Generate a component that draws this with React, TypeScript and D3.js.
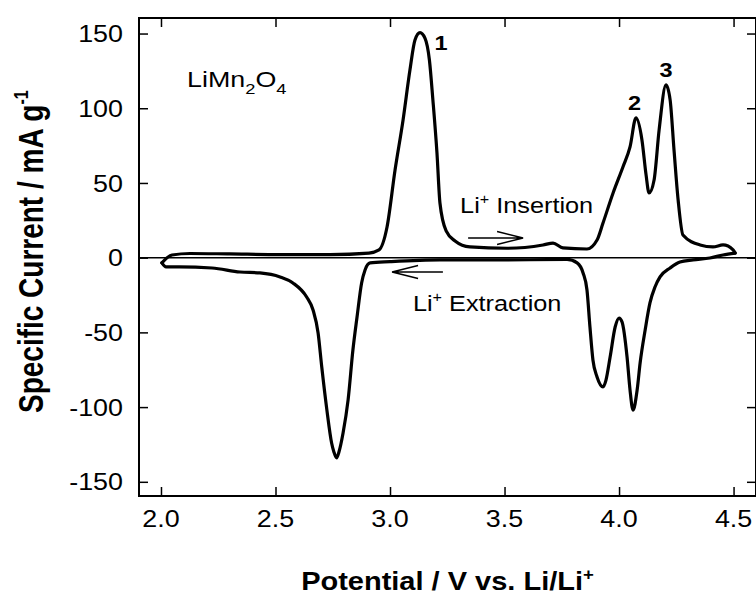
import React, { useRef, useEffect } from "react";
import * as d3 from "d3";

// tick values
const xTicks = [2.0, 2.5, 3.0, 3.5, 4.0, 4.5];
const yTicks = [-150, -100, -50, 0, 50, 100, 150];

// forward sweep (upper branch) - potential in V, current in mA/g
const fwdPotential = [2.004, 2.048, 2.127, 2.301, 2.52, 2.738, 2.908, 2.952, 2.987, 3.022, 3.057, 3.087, 3.109, 3.131, 3.153, 3.172, 3.187, 3.205, 3.218, 3.245, 3.284, 3.349, 3.511, 3.668, 3.712, 3.755, 3.86, 3.904, 3.93, 3.974, 4.017, 4.048, 4.074, 4.1, 4.118, 4.131, 4.153, 4.175, 4.205, 4.223, 4.24, 4.258, 4.279, 4.354, 4.41, 4.454, 4.498, 4.507];
const fwdCurrent = [-3.5, 1.8, 2.8, 2.5, 2.1, 2.1, 3.1, 5.2, 20.5, 58.7, 92.2, 125.6, 145.7, 150.6, 146.8, 132.3, 106.0, 70.1, 36.6, 17.9, 11.2, 7.2, 6.3, 8.5, 9.8, 6.5, 5.8, 11.8, 23.2, 43.3, 60.7, 74.1, 93.5, 78.8, 55.4, 43.3, 52.0, 85.5, 115.6, 105.6, 72.1, 38.6, 15.2, 8.5, 7.2, 8.5, 5.2, 3.1];

// reverse sweep (lower branch)
const revPotential = [4.454, 4.397, 4.323, 4.266, 4.223, 4.179, 4.157, 4.135, 4.114, 4.092, 4.079, 4.061, 4.048, 4.035, 4.013, 4.0, 3.983, 3.961, 3.943, 3.93, 3.904, 3.886, 3.873, 3.86, 3.843, 3.817, 3.773, 3.48, 3.218, 3.0, 2.913, 2.891, 2.876, 2.856, 2.838, 2.817, 2.795, 2.777, 2.767, 2.755, 2.745, 2.724, 2.702, 2.686, 2.664, 2.636, 2.576, 2.52, 2.432, 2.345, 2.223, 2.079, 2.022, 2.004];
const revCurrent = [1.8, -0.2, -1.5, -2.9, -6.9, -12.9, -19.6, -30.3, -48.4, -70.5, -88.6, -102, -88.6, -66.5, -43.0, -40.4, -46.4, -66.5, -81.9, -86.5, -79.8, -68.5, -46.4, -21.6, -10.2, -3.5, -1.2, -1.5, -1.5, -2.7, -3.5, -8.2, -16.9, -39.7, -61.8, -95.2, -117.3, -130, -134, -130, -124, -101.5, -73.2, -50.4, -35.0, -26.3, -16.9, -12.9, -10.2, -9.6, -6.9, -6.2, -6.2, -3.5];

const peakLabels = ["1", "2", "3"];
const peakLabelPotential = [3.223, 4.068, 4.205];
const peakLabelCurrent = [139, 99, 121];

const FONT = "'Liberation Sans', Arial, Helvetica, sans-serif";

function CVChart({ width = 756, height = 595 }) {
  const svgRef = useRef(null);

  useEffect(() => {
    const svg = d3.select(svgRef.current);
    svg.selectAll("*").remove();

    const margin = { top: 18, right: 0, bottom: 99, left: 139 };
    const innerW = width - margin.left - margin.right;
    const innerH = height - margin.top - margin.bottom;

    const x = d3.scaleLinear().domain([1.904, 4.598]).range([0, innerW]);
    const y = d3.scaleLinear().domain([-159.5, 160.4]).range([innerH, 0]);

    const g = svg.append("g").attr("transform", `translate(${margin.left},${margin.top})`);

    // frame
    g.append("rect")
      .attr("width", innerW)
      .attr("height", innerH)
      .attr("fill", "none")
      .attr("stroke", "#000")
      .attr("stroke-width", 2);

    // inward ticks on all four sides
    const tick = 9;
    const axes = [
      { a: d3.axisBottom(x).tickValues(xTicks), t: `translate(0,${innerH})` },
      { a: d3.axisTop(x).tickValues(xTicks), t: "" },
      { a: d3.axisLeft(y).tickValues(yTicks), t: "" },
      { a: d3.axisRight(y).tickValues(yTicks), t: `translate(${innerW},0)` },
    ];
    axes.forEach(({ a, t }) => {
      const ax = g.append("g").attr("transform", t).call(a.tickSize(-tick).tickFormat(() => ""));
      ax.select(".domain").remove();
      ax.selectAll("line").attr("stroke", "#000").attr("stroke-width", 1.5);
    });

    // tick labels
    g.selectAll(".xl")
      .data(xTicks)
      .join("text")
      .attr("transform", d => `translate(${x(d)},${innerH + 31}) scale(1.12,1)`)
      .attr("text-anchor", "middle")
      .attr("font-family", FONT)
      .attr("font-size", 24)
      .text(d => d.toFixed(1));

    g.selectAll(".yl")
      .data(yTicks)
      .join("text")
      .attr("transform", d => `translate(-16,${y(d)}) scale(1.12,1)`)
      .attr("text-anchor", "end")
      .attr("dy", "0.36em")
      .attr("font-family", FONT)
      .attr("font-size", 24)
      .text(d => String(d));

    // zero line
    g.append("line")
      .attr("x1", 0)
      .attr("x2", innerW)
      .attr("y1", y(0))
      .attr("y2", y(0))
      .attr("stroke", "#000")
      .attr("stroke-width", 1.5);

    // CV loop, drawn as two branches joined at the turning points
    const fwd = fwdPotential.map((v, i) => [v, fwdCurrent[i]]);
    const rev = [[fwdPotential[fwdPotential.length - 1], fwdCurrent[fwdCurrent.length - 1]],
      ...revPotential.map((v, i) => [v, revCurrent[i]])].reverse();
    const line = d3.line()
      .x(d => x(d[0]))
      .y(d => y(d[1]))
      .curve(d3.curveMonotoneX);

    [fwd, rev].forEach(branch => {
      g.append("path")
        .datum(branch)
        .attr("fill", "none")
        .attr("stroke", "#000")
        .attr("stroke-width", 3.2)
        .attr("stroke-linejoin", "round")
        .attr("stroke-linecap", "round")
        .attr("d", line);
    });

    // peak numbers
    g.selectAll(".pk")
      .data(peakLabels)
      .join("text")
      .attr("transform", (d, i) => `translate(${x(peakLabelPotential[i])},${y(peakLabelCurrent[i])}) scale(1.12,1)`)
      .attr("text-anchor", "middle")
      .attr("font-family", FONT)
      .attr("font-weight", "bold")
      .attr("font-size", 21)
      .text(d => d);

    // compound label
    const comp = g.append("text")
      .attr("transform", `translate(${x(2.114)},${y(114.3)}) scale(1.22,1)`)
      .attr("font-family", FONT)
      .attr("font-size", 22);
    comp.append("tspan").text("LiMn");
    comp.append("tspan").attr("font-size", 15).attr("dy", 7).text("2");
    comp.append("tspan").attr("dy", -7).text("O");
    comp.append("tspan").attr("font-size", 15).attr("dy", 7).text("4");

    // sweep direction labels
    const liLabel = (v, c, word) => {
      const t = g.append("text")
        .attr("transform", `translate(${x(v)},${y(c)}) scale(1.15,1)`)
        .attr("font-family", FONT)
        .attr("font-size", 22);
      t.append("tspan").text("Li");
      t.append("tspan").attr("font-size", 14).attr("dy", -9).text("+");
      t.append("tspan").attr("dy", 9).text(" " + word);
    };
    liLabel(3.306, 29.9, "Insertion");
    liLabel(3.1, -35.7, "Extraction");

    // open arrows
    const arrow = (v0, v1, c) => {
      const x0 = x(v0), x1 = x(v1), yy = y(c);
      const dir = Math.sign(x1 - x0);
      g.append("path")
        .attr("d", `M${x0},${yy}L${x1},${yy}M${x1 - dir * 26},${yy - 6.5}L${x1},${yy}L${x1 - dir * 26},${yy + 6.5}`)
        .attr("fill", "none")
        .attr("stroke", "#000")
        .attr("stroke-width", 1.4);
    };
    arrow(3.341, 3.581, 13.2);
    arrow(3.231, 3.009, -9.6);

    // axis titles
    const xt = svg.append("text")
      .attr("transform", `translate(${margin.left + innerW / 2},590) scale(1.16,1)`)
      .attr("text-anchor", "middle")
      .attr("font-family", FONT)
      .attr("font-weight", "bold")
      .attr("font-size", 25);
    xt.append("tspan").text("Potential / V vs. Li/Li");
    xt.append("tspan").attr("font-size", 16).attr("dy", -10).text("+");

    const yt = svg.append("text")
      .attr("transform", `translate(43,${margin.top + y(0) - 6}) scale(1.22,1) rotate(-90)`)
      .attr("text-anchor", "middle")
      .attr("font-family", FONT)
      .attr("font-weight", "bold")
      .attr("font-size", 28);
    yt.append("tspan").text("Specific Current / mA g");
    yt.append("tspan").attr("font-size", 16).attr("dy", -12).text("-1");
  }, [width, height]);

  return (
    <svg
      ref={svgRef}
      width={width}
      height={height}
      style={{ position: "absolute", left: 0, top: 0, background: "#fff" }}
    ></svg>
  );
}

export default function App() {
  return <CVChart />;
}
